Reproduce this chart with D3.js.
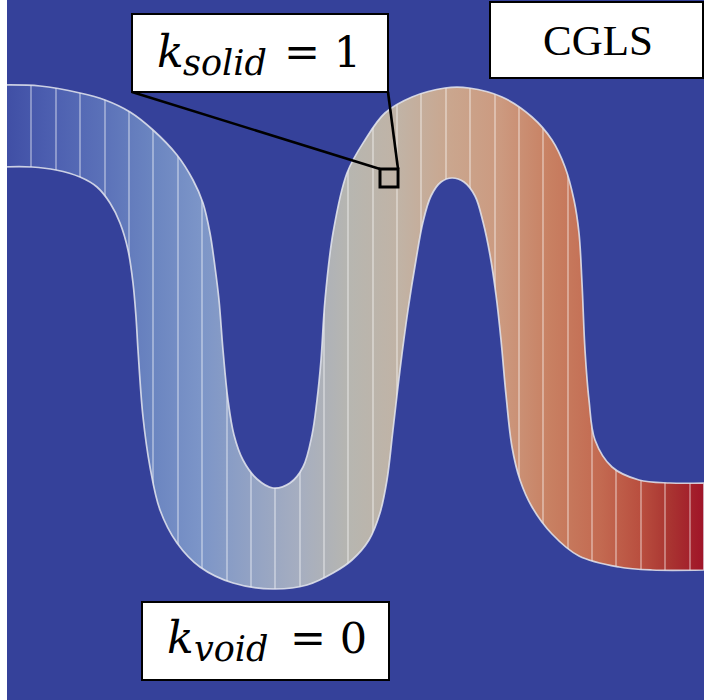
<!DOCTYPE html>
<html>
<head>
<meta charset="utf-8">
<script src="https://cdn.jsdelivr.net/npm/d3@7"></script>
<style>
  html, body { margin: 0; padding: 0; background: #fff; }
  svg { display: block; }
</style>
</head>
<body>
<svg id="chart" width="704" height="700"></svg>
<script>
// Channel geometry in field units (x to the right, y downward)
const upperEdge = [
  [0,85],[40,86],[80,93],[105,100],[130,112],[153,130],[177,155],[193,180],[203,203],
  [210,233],[215,267],[219,300],[223,350],[228,400],[234,435],[243,460],[257,479],
  [273,488],[290,483],[303,467],[312,435],[317,400],[321,360],[325,300],[333,233],
  [347,173],[365,140],[385,113],[412,97],[445,88],[469,88],[502,97],[532,117],
  [552,140],[565,167],[574,200],[579,233],[582,283],[585,350],[589,400],[595,440],
  [612,467],[639,480],[670,483],[704,483]
];
const lowerEdge = [
  [0,167],[32,167],[56,170],[80,177],[97,187],[110,203],[120,223],[128,250],[133,283],
  [136,317],[138,350],[143,417],[150,467],[160,510],[177,543],[200,567],[233,583],
  [273,589],[307,585],[333,573],[352,560],[369,540],[380,513],[387,480],[393,430],
  [400,370],[408,310],[416,260],[423,222],[431,196],[441,182],[452,178],[464,182],
  [475,196],[483,222],[490,255],[496,295],[501,340],[506,395],[512,447],[520,480],
  [532,507],[552,534],[579,556],[619,567],[652,570],[704,570]
];

// Mesh column boundaries (x positions)
const meshColumns = [31,56,80,105,129,153,178,202,227,251,275,300,324,348,373,397,
                     421,446,470,495,519,543,568,592,616,641,665,690];

// Conductivity colour field along x
const colorX   = [7, 45, 100, 150, 200, 250, 300, 350, 400, 450, 500, 550, 600, 640, 670, 704];
const colorHex = ["#404fa5","#4b5daf","#5a70b8","#6a84c0","#7c95c8","#92a2c4","#a6aec0",
                  "#b7b6b0","#c1b3a5","#caa68e","#cc9a80","#c88062","#c36a51","#b94f3f",
                  "#a93431","#a01428"];

// Annotation labels
const solidLabel = { base: "k", sub: "solid", rhs: "= 1" };
const voidLabel  = { base: "k", sub: "void",  rhs: "= 0" };
const methodLabel = "CGLS";

const W = 704, H = 700;
const svg = d3.select("#chart");
const x = d3.scaleLinear().domain([0, 704]).range([0, W]);
const y = d3.scaleLinear().domain([0, 700]).range([0, H]);

// background
svg.append("rect").attr("x", 0).attr("y", 0).attr("width", W).attr("height", H)
  .attr("fill", "#35419a");

const defs = svg.append("defs");
const grad = defs.append("linearGradient")
  .attr("id", "fieldGrad")
  .attr("gradientUnits", "userSpaceOnUse")
  .attr("x1", x(colorX[0])).attr("y1", 0)
  .attr("x2", x(colorX[colorX.length - 1])).attr("y2", 0);
const x0 = colorX[0], x1 = colorX[colorX.length - 1];
colorX.forEach((cx, i) => {
  grad.append("stop")
    .attr("offset", ((cx - x0) / (x1 - x0)).toFixed(4))
    .attr("stop-color", colorHex[i]);
});

// channel outline
const edge = d3.line()
  .x(d => x(d[0])).y(d => y(d[1]))
  .curve(d3.curveCatmullRom.alpha(0.5));
const bandPath = edge(upperEdge) +
  edge(lowerEdge.slice().reverse()).replace(/^M/, "L") + "Z";

defs.append("clipPath").attr("id", "bandClip")
  .append("path").attr("d", bandPath);

svg.append("path").attr("d", bandPath).attr("fill", "url(#fieldGrad)");

// mesh lines inside the channel
svg.append("g").attr("clip-path", "url(#bandClip)")
  .selectAll("line").data(meshColumns).join("line")
  .attr("x1", d => x(d)).attr("x2", d => x(d))
  .attr("y1", 0).attr("y2", H)
  .attr("stroke", "#ffffff").attr("stroke-opacity", 0.42).attr("stroke-width", 1.7);

// channel boundary
svg.append("path").attr("d", bandPath)
  .attr("fill", "none")
  .attr("stroke", "#e4e6ee").attr("stroke-opacity", 0.85).attr("stroke-width", 1.7);

// left margin strip
svg.append("rect").attr("x", 0).attr("y", 0).attr("width", 7).attr("height", H)
  .attr("fill", "#ffffff");

// probe square and leader lines
const probe = { x0: 380, y0: 169, x1: 398, y1: 187 };
const solidBox = { x0: 132, y0: 14, x1: 388, y1: 92 };
svg.append("line")
  .attr("x1", x(solidBox.x0)).attr("y1", y(solidBox.y1))
  .attr("x2", x(probe.x0)).attr("y2", y(probe.y0))
  .attr("stroke", "#000").attr("stroke-width", 2.6);
svg.append("line")
  .attr("x1", x(solidBox.x1)).attr("y1", y(solidBox.y1))
  .attr("x2", x(probe.x1)).attr("y2", y(probe.y0))
  .attr("stroke", "#000").attr("stroke-width", 2.6);
svg.append("rect")
  .attr("x", x(probe.x0)).attr("y", y(probe.y0))
  .attr("width", x(probe.x1) - x(probe.x0)).attr("height", y(probe.y1) - y(probe.y0))
  .attr("fill", "none").attr("stroke", "#000").attr("stroke-width", 3);

function labelBox(b) {
  svg.append("rect")
    .attr("x", x(b.x0)).attr("y", y(b.y0))
    .attr("width", x(b.x1) - x(b.x0)).attr("height", y(b.y1) - y(b.y0))
    .attr("fill", "#ffffff").attr("stroke", "#000").attr("stroke-width", 2);
}

function mathLabel(lbl, pos) {
  const g = svg.append("g").attr("font-family", "'DejaVu Serif', serif").attr("fill", "#000");
  g.append("text").attr("x", pos.kx).attr("y", pos.base)
    .attr("font-size", 44).attr("font-style", "italic").text(lbl.base);
  g.append("text").attr("x", pos.subx).attr("y", pos.base + 8)
    .attr("font-size", 35).attr("font-style", "italic").text(lbl.sub);
  g.append("text").attr("x", pos.rhsx).attr("y", pos.base)
    .attr("font-size", 43).attr("xml:space", "preserve").text(lbl.rhs);
}

labelBox(solidBox);
mathLabel(solidLabel, { kx: 157, subx: 183, rhsx: 284, base: 67 });

const voidBox = { x0: 142, y0: 602, x1: 389, y1: 680 };
labelBox(voidBox);
mathLabel(voidLabel, { kx: 167, subx: 194, rhsx: 290, base: 653 });

const methodBox = { x0: 490, y0: 2, x1: 703, y1: 78 };
labelBox(methodBox);
svg.append("text")
  .attr("x", x(598)).attr("y", y(55))
  .attr("text-anchor", "middle")
  .attr("font-family", "'Liberation Serif', 'Times New Roman', serif")
  .attr("font-size", 43).attr("fill", "#000")
  .text(methodLabel);
</script>
</body>
</html>
